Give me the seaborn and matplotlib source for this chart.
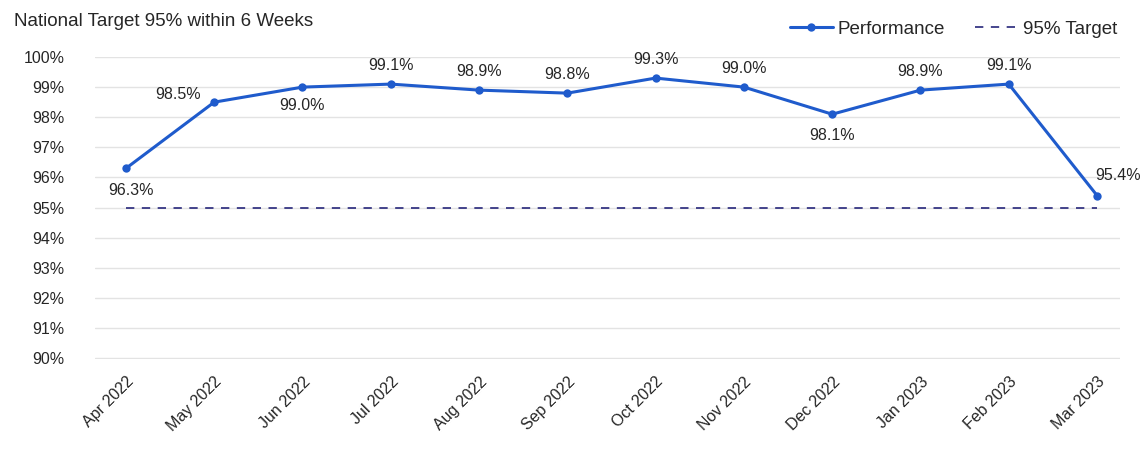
import matplotlib
matplotlib.use("Agg")
import matplotlib.pyplot as plt
import seaborn as sns
import pandas as pd
from matplotlib.ticker import FuncFormatter

months = ["Apr 2022", "May 2022", "Jun 2022", "Jul 2022", "Aug 2022", "Sep 2022",
          "Oct 2022", "Nov 2022", "Dec 2022", "Jan 2023", "Feb 2023", "Mar 2023"]
performance = [96.3, 98.5, 99.0, 99.1, 98.9, 98.8, 99.3, 99.0, 98.1, 98.9, 99.1, 95.4]
target = [95.0] * len(months)
y_ticks = list(range(90, 101))

# label placement per point: (dx points, dy points, ha)
label_offsets = [(4, -21, "center"), (-26, 0, "center"), (0, -19, "center"),
                 (0, 8, "center"), (0, 8, "center"), (0, 8, "center"),
                 (0, 8, "center"), (0, 8, "center"), (0, -21, "center"),
                 (0, 8, "center"), (0, 8, "center"), (-1, 9, "left")]

sns.set_theme(style="white")
plt.rcParams["font.family"] = ["Liberation Sans", "DejaVu Sans"]

df = pd.DataFrame({"x": range(len(months)), "Performance": performance, "Target": target})

fig = plt.figure(figsize=(11.41, 4.57), dpi=100)
ax = fig.add_axes([95 / 1141, 1 - 359 / 457, (1120 - 95) / 1141, (359 - 57) / 457])

sns.lineplot(data=df, x="x", y="Target", ax=ax, color="#26267a", linewidth=1.2,
             linestyle=(0, (5, 4.5)), label="95% Target", zorder=2)
sns.lineplot(data=df, x="x", y="Performance", ax=ax, color="#1f5bcc", linewidth=2.2,
             marker="o", markersize=6, markeredgewidth=0, label="Performance", zorder=3)

for i, v in enumerate(performance):
    dx, dy, ha = label_offsets[i]
    ax.annotate(f"{v:.1f}%", (i, v), xytext=(dx, dy), textcoords="offset points",
                ha=ha, va="bottom", fontsize=11.5, color="#262626", clip_on=False)

ax.set_ylim(89.97, 100)
ax.set_xlim(-0.35, 11.26)
ax.set_yticks(y_ticks)
ax.yaxis.set_major_formatter(FuncFormatter(lambda v, _: f"{v:.0f}%"))
ax.set_xticks(range(len(months)))
ax.set_xticklabels(months, rotation=45, ha="right", rotation_mode="anchor")
ax.tick_params(axis="both", length=0, labelsize=11.5, colors="#262626")
ax.tick_params(axis="x", pad=11)
ax.tick_params(axis="y", pad=22)
ax.grid(axis="y", color="#e3e3e3", linewidth=1)
ax.set_axisbelow(True)
for s in ax.spines.values():
    s.set_visible(False)
ax.set_xlabel("")
ax.set_ylabel("")

handles, labels = ax.get_legend_handles_labels()
order = [labels.index("Performance"), labels.index("95% Target")]
ax.legend([handles[k] for k in order], [labels[k] for k in order], loc="center right",
          bbox_to_anchor=(0.997, (359 - 29) / 302), ncol=2, frameon=False, fontsize=13.5,
          handlelength=2.3, handletextpad=0.25, columnspacing=1.6,
          borderaxespad=0, borderpad=0)

fig.text(14 / 1141, 1 - 22 / 457, "National Target 95% within 6 Weeks", fontsize=13.5,
         color="#262626", va="center", ha="left")

fig.savefig("out.png", dpi=100, facecolor="white")
